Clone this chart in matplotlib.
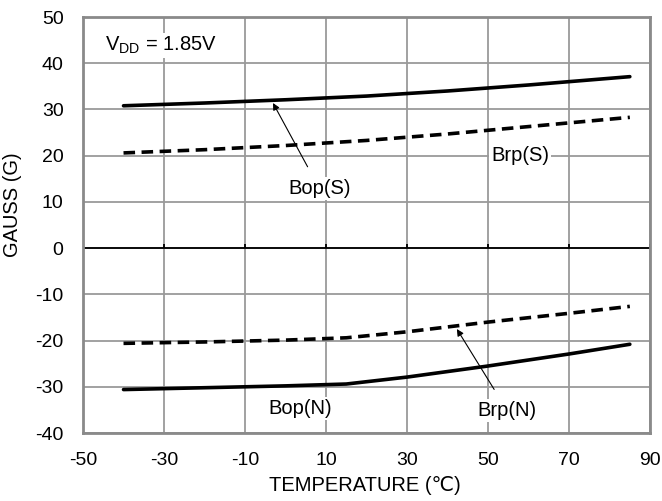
import matplotlib
matplotlib.use("Agg")
import matplotlib.pyplot as plt
import numpy as np

plt.rcParams['font.family'] = ['Liberation Sans', 'DejaVu Sans']
plt.rcParams['axes.unicode_minus'] = False

# Data
temp = [-40, -20, 0, 20, 40, 60, 85]
bop_s = [30.8, 31.4, 32.1, 32.9, 34.0, 35.3, 37.1]
brp_s = [20.6, 21.3, 22.2, 23.3, 24.7, 26.3, 28.3]
temp_n = [-40, -20, 0, 15, 30, 50, 70, 85]
brp_n = [-20.6, -20.3, -19.9, -19.4, -18.1, -16.0, -14.1, -12.6]
bop_n = [-30.6, -30.2, -29.8, -29.4, -27.9, -25.5, -22.9, -20.8]

xticks = [-50, -30, -10, 10, 30, 50, 70, 90]
yticks = [-40, -30, -20, -10, 0, 10, 20, 30, 40, 50]

fs = 14.5
fig = plt.figure(figsize=(6.62, 5.01), dpi=100)
ax = fig.add_axes([0.1254, 0.1357, 0.982 - 0.1254, 0.966 - 0.1357])

ax.set_xlim(-50, 90)
ax.set_ylim(-40, 50)
ax.set_xticks(xticks)
ax.set_yticks(yticks)
ax.grid(True, color='#9a9a9a', linewidth=1.3)
ax.set_axisbelow(True)
for s in ax.spines.values():
    s.set_color('#8a8a8a')
    s.set_linewidth(2)
ax.tick_params(length=0, labelsize=14, pad=14)

# zero axis with small upward ticks
ax.axhline(0, color='black', linewidth=1.3, zorder=2)
ax.vlines(xticks, 0, 0.9, color='black', linewidth=1.3, zorder=2)

lw = 2.6
ax.plot(temp, bop_s, color='black', linewidth=lw, solid_capstyle='round', zorder=3)
ax.plot(temp, brp_s, color='black', linewidth=lw, dashes=(3.2, 1.8), zorder=3)
ax.plot(temp_n, brp_n, color='black', linewidth=lw, dashes=(3.2, 1.8), zorder=3)
ax.plot(temp_n, bop_n, color='black', linewidth=lw, solid_capstyle='round', zorder=3)

tb = dict(facecolor='white', edgecolor='none', pad=1.5)
ax.annotate('Bop(S)', xy=(-3.1, 31.4), xytext=(8.3, 13.0), fontsize=fs,
            ha='center', va='center', bbox=tb, zorder=4,
            arrowprops=dict(arrowstyle='-|>', color='black', lw=0.8,
                            mutation_scale=10, shrinkA=8, shrinkB=0))
ax.text(57.9, 20.1, 'Brp(S)', fontsize=fs, ha='center', va='center', bbox=tb, zorder=4)
ax.annotate('Brp(N)', xy=(42.3, -17.5), xytext=(54.7, -35.1), fontsize=fs,
            ha='center', va='center', bbox=tb, zorder=4,
            arrowprops=dict(arrowstyle='-|>', color='black', lw=0.8,
                            mutation_scale=10, shrinkA=8, shrinkB=0))
ax.text(3.6, -34.8, 'Bop(N)', fontsize=fs, ha='center', va='center', bbox=tb, zorder=4)
ax.text(-44.6, 43.9, r'V$_{\mathregular{DD}}$ = 1.85V', fontsize=fs, ha='left', va='center', bbox=tb, zorder=4)

ax.set_xlabel('TEMPERATURE (℃)', fontsize=fs)
ax.set_ylabel('GAUSS (G)', fontsize=fs)
ax.xaxis.set_label_coords(0.497, -0.103)
ax.yaxis.set_label_coords(-0.107, 0.548)

fig.savefig('out.png', dpi=100)
